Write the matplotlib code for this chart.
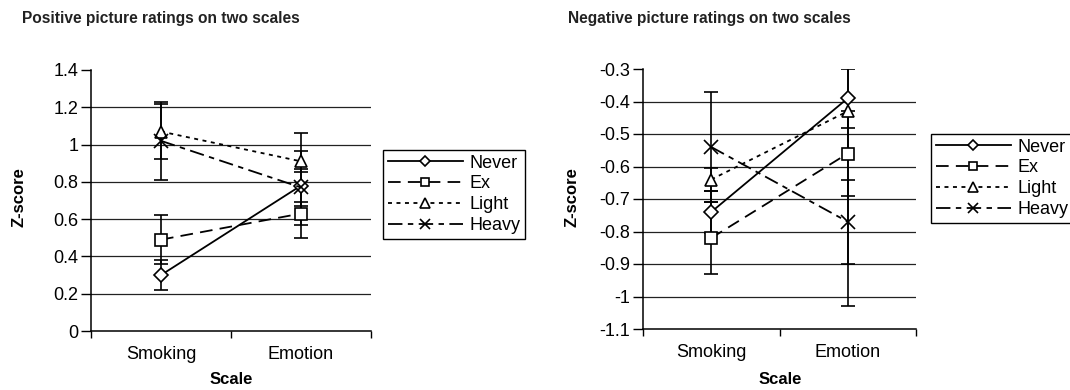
import numpy as np
import matplotlib
matplotlib.use("Agg")
import matplotlib.pyplot as plt

plt.rcParams['font.family'] = ['Liberation Sans', 'DejaVu Sans']

scales = ['Smoking', 'Emotion']
groups = ['Never', 'Ex', 'Light', 'Heavy']

# positive pictures: means and error bar half-widths per group (Smoking, Emotion)
pos_mean = {'Never': [0.30, 0.78], 'Ex': [0.49, 0.63],
            'Light': [1.07, 0.91], 'Heavy': [1.02, 0.77]}
pos_err = {'Never': [0.08, 0.28], 'Ex': [0.13, 0.06],
           'Light': [0.15, 0.055], 'Heavy': [0.21, 0.10]}

# negative pictures
neg_mean = {'Never': [-0.74, -0.39], 'Ex': [-0.82, -0.56],
            'Light': [-0.64, -0.43], 'Heavy': [-0.54, -0.77]}
neg_err = {'Never': [0.065, 0.09], 'Ex': [0.11, 0.13],
           'Light': [0.035, 0.60], 'Heavy': [0.17, 0.13]}

styles = {
    'Never': dict(linestyle='-', marker='D', markersize=7),
    'Ex': dict(linestyle=(0, (7, 4)), marker='s', markersize=8.5),
    'Light': dict(linestyle=(0, (2.2, 2.5)), marker='^', markersize=9),
    'Heavy': dict(linestyle=(0, (8, 3, 3, 3)), marker='x', markersize=10),
}

W, H = 1070, 390
fig = plt.figure(figsize=(W / 100, H / 100), dpi=100)


def px(x0, y_top, x1, y_bot):
    return [x0 / W, 1 - y_bot / H, (x1 - x0) / W, (y_bot - y_top) / H]


def draw(ax, means, errs, ylim, yticks, ylabels):
    x = np.arange(len(scales)) + 0.5
    for g in groups:
        ax.errorbar(x, means[g], yerr=errs[g], fmt='none', ecolor='black',
                    elinewidth=1.2, capsize=5, capthick=1.2, zorder=3)
    for g in groups:
        st = styles[g]
        ax.plot(x, means[g], color='black', lw=1.3, linestyle=st['linestyle'],
                marker=st['marker'], markersize=st['markersize'],
                markerfacecolor='white', markeredgecolor='black',
                markeredgewidth=1.2, label=g, zorder=4)
    ax.set_xlim(0, len(scales))
    ax.set_ylim(*ylim)
    ax.set_yticks(yticks)
    ax.set_yticklabels(ylabels)
    for t in yticks[1:-1]:
        ax.axhline(t, color='#222222', lw=0.9, zorder=1)
    ax.set_xticks(np.arange(len(scales) + 1))
    ax.set_xticklabels([])
    ax.set_xticks(x, minor=True)
    ax.set_xticklabels(scales, minor=True)
    ax.tick_params(axis='x', which='major', direction='out', length=5, width=1)
    ax.tick_params(axis='x', which='minor', length=0, pad=11, labelsize=13)
    ax.tick_params(axis='y', direction='out', length=7, width=1, pad=2, labelsize=13)
    for s in ['top', 'right']:
        ax.spines[s].set_visible(False)
    for s in ['left', 'bottom']:
        ax.spines[s].set_linewidth(1.1)
    ax.patch.set_alpha(0)


def legend(ax, x0, y0):
    handles, labels = ax.get_legend_handles_labels()
    fig.legend(handles, labels, loc='upper left',
               bbox_to_anchor=(x0 / W, 1 - y0 / H), frameon=True,
               fancybox=False, edgecolor='black', framealpha=1,
               fontsize=13, handlelength=4.2, handletextpad=0.35,
               labelspacing=0.22, borderpad=0.25, markerscale=0.75,
               borderaxespad=0)


ax1 = fig.add_axes(px(91, 70, 371, 331))
pos_ticks = np.round(np.arange(0, 1.41, 0.2), 1)
draw(ax1, pos_mean, pos_err, (0, 1.4), pos_ticks,
     ['0', '0.2', '0.4', '0.6', '0.8', '1', '1.2', '1.4'])
legend(ax1, 383, 150)

ax2 = fig.add_axes(px(643, 69, 916, 329))
neg_ticks = np.round(np.arange(-1.1, -0.29, 0.1), 1)
draw(ax2, neg_mean, neg_err, (-1.1, -0.3), neg_ticks,
     ['-1.1', '-1', '-0.9', '-0.8', '-0.7', '-0.6', '-0.5', '-0.4', '-0.3'])
legend(ax2, 931, 134)

fig.text(22 / W, 1 - 19 / H, 'Positive picture ratings on two scales',
         fontsize=11.2, fontweight='bold', ha='left', va='center', color='#222222')
fig.text(568 / W, 1 - 19 / H, 'Negative picture ratings on two scales',
         fontsize=11.2, fontweight='bold', ha='left', va='center', color='#222222')

fig.text(19 / W, 1 - 197 / H, 'Z-score', rotation=90, fontsize=12,
         fontweight='bold', ha='center', va='center')
fig.text(572 / W, 1 - 197 / H, 'Z-score', rotation=90, fontsize=12,
         fontweight='bold', ha='center', va='center')
fig.text(231 / W, 1 - 380 / H, 'Scale', fontsize=12, fontweight='bold',
         ha='center', va='center')
fig.text(780 / W, 1 - 380 / H, 'Scale', fontsize=12, fontweight='bold',
         ha='center', va='center')

fig.savefig('out.png', dpi=100)
